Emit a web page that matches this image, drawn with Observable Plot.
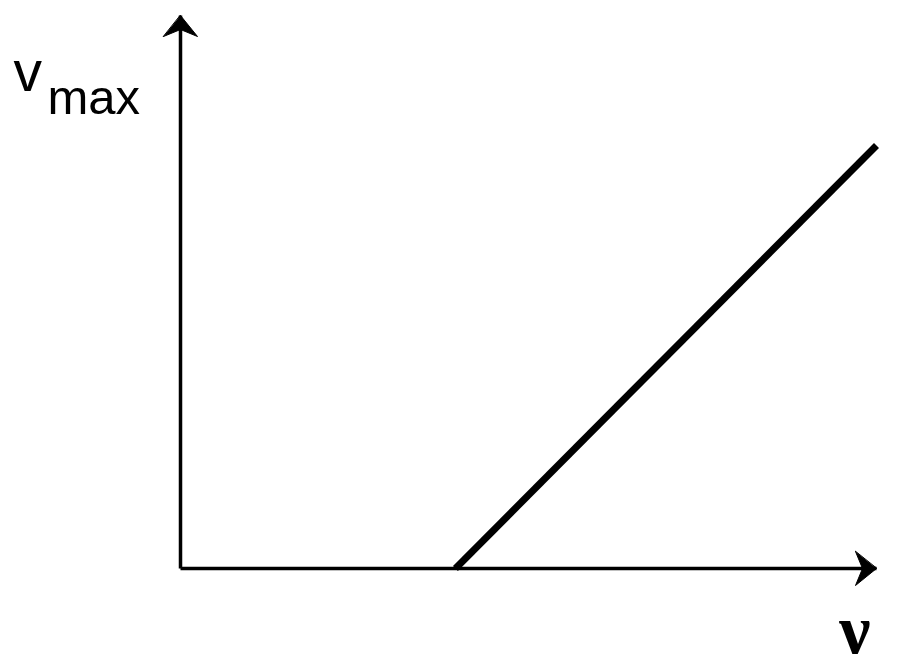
<!DOCTYPE html>
<html>
<head>
<meta charset="utf-8">
<script src="https://cdn.jsdelivr.net/npm/d3@7"></script>
<script src="https://cdn.jsdelivr.net/npm/@observablehq/plot@0.6"></script>
<style>
  html, body { margin: 0; padding: 0; background: #fff; }
</style>
</head>
<body>
<div id="chart"></div>
<script>
// Axis extents (data units)
const xMax = 10;
const yMax = 10;
// Threshold frequency where v_max starts rising, and the line's end point
const lineX = [3.95, 10];
const lineY = [0, 7.65];
// Labels
const yLabel = ["v", "max"];
const xLabel = "ν";

const linePts = lineX.map((x, i) => ({x, y: lineY[i]}));
const axes = [
  {x1: 0, y1: 0, x2: xMax, y2: 0, rot: 90},
  {x1: 0, y1: 0, x2: 0, y2: yMax, rot: 0}
];

// filled, notched arrowhead drawn along -y (tip at (0,-l))
const headShape = {
  draw(context, l) {
    context.moveTo(0, -l);
    context.lineTo(17, -l + 21);
    context.lineTo(0, -l + 14);
    context.lineTo(-17, -l + 21);
    context.closePath();
  }
};

const chart = Plot.plot({
  width: 900,
  height: 667,
  marginLeft: 180,
  marginRight: 24,
  marginTop: 15,
  marginBottom: 99,
  x: {domain: [0, xMax], axis: null},
  y: {domain: [0, yMax], axis: null},
  marks: [
    Plot.line(linePts, {x: "x", y: "y", stroke: "black", strokeWidth: 7, strokeLinecap: "butt"}),
    Plot.link(axes, {x1: "x1", y1: "y1", x2: "x2", y2: "y2", stroke: "black", strokeWidth: 3.5}),
    Plot.vector(axes, {x: "x2", y: "y2", rotate: "rot", length: 24, anchor: "end", shape: headShape, fill: "black", stroke: "black", strokeWidth: 1}),
    Plot.text([yLabel[0]], {frameAnchor: "top-left", text: d => d, dx: -167, dy: 75, textAnchor: "start", lineAnchor: "bottom", fontSize: 57, fontFamily: "Liberation Sans, Arial, sans-serif", fill: "black"}),
    Plot.text([yLabel[1]], {frameAnchor: "top-left", text: d => d, dx: -133, dy: 98, textAnchor: "start", lineAnchor: "bottom", fontSize: 49, fontFamily: "Liberation Sans, Arial, sans-serif", fill: "black"}),
    Plot.text([xLabel], {frameAnchor: "bottom-right", text: d => d, dx: -6, dy: 84, textAnchor: "end", lineAnchor: "bottom", fontSize: 70, fontFamily: "Liberation Serif, serif", fontWeight: "bold", fill: "black"})
  ]
});
document.getElementById("chart").appendChild(chart);
</script>
</body>
</html>
